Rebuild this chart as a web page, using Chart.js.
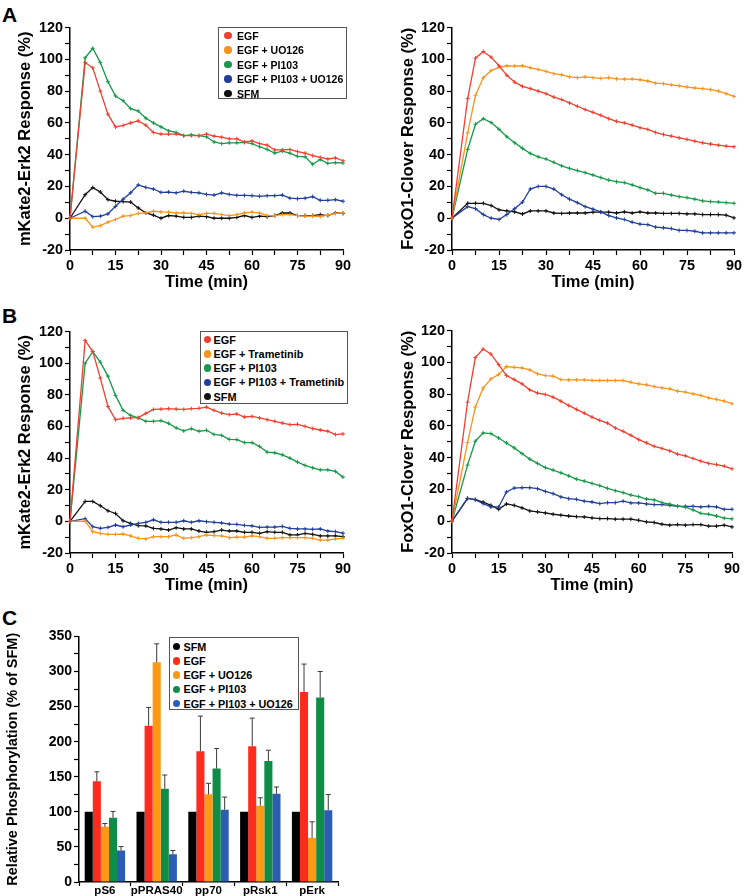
<!DOCTYPE html>
<html>
<head>
<meta charset="utf-8">
<script src="https://cdn.jsdelivr.net/npm/chart.js@4.4.0/dist/chart.umd.min.js"></script>
<style>
body { margin: 0; width: 746px; height: 896px; position: relative; background: #fff; overflow: hidden;
       font-family: "Liberation Sans", Arial, sans-serif; }
canvas { position: absolute; }
.panel { position: absolute; left: 2px; font-weight: bold; font-size: 21px; line-height: 21px; color: #000; }
.legend { position: absolute; border: 1px solid #555; background: #fff; font-weight: bold; color: #000; box-sizing: border-box; }
.legend span { position: absolute; white-space: nowrap; line-height: 12px; }
.legend i { position: absolute; width: 7.5px; height: 7.5px; border-radius: 50%; }
</style>
</head>
<body>
<div class="panel" style="top:4px">A</div>
<div class="panel" style="top:305px">B</div>
<div class="panel" style="top:607px">C</div>

<canvas id="aErk" width="341" height="275" style="left:16px;top:17px"></canvas>
<canvas id="aFox" width="347" height="275" style="left:399px;top:17px"></canvas>
<canvas id="bErk" width="341" height="274" style="left:16px;top:321px"></canvas>
<canvas id="bFox" width="347" height="275" style="left:399px;top:320px"></canvas>
<canvas id="cBar" width="340" height="270" style="left:4px;top:626px"></canvas>

<div id="legA" class="legend"></div>
<div id="legB" class="legend"></div>
<div id="legC" class="legend"></div>

<script>
// ===== time points (min) =====
const times = [0, 5, 7.5, 10, 12.5, 15, 17.5, 20, 22.5, 25, 27.5, 30, 32.5, 35, 37.5, 40, 42.5, 45, 47.5, 50,
    52.5, 55, 57.5, 60, 62.5, 65, 67.5, 70, 72.5, 75, 77.5, 80, 82.5, 85, 87.5, 90];
const timeLabels = [0, 15, 30, 45, 60, 75, 90];
const respLabels = [-20, 0, 20, 40, 60, 80, 100, 120];
const phosLabels = [0, 50, 100, 150, 200, 250, 300, 350];

// ===== A: UO126 =====
const aErkEGF = [0, 98, 94.7, 80, 65.5, 57.5, 58.4, 60, 61.3, 58.6, 54, 53, 53, 53, 52, 52, 52, 53, 51.7, 51,
    50, 50, 48, 48.7, 47, 46, 43, 43, 43.3, 42, 41, 39.4, 38.3, 37.3, 38, 36.2];
const aErkUO = [0, 0, -5.6, -4.7, -2.5, -0.8, 1.3, 1.7, 3, 3.3, 4.4, 4, 3.8, 3.3, 3.3, 3, 2.3, 3, 3.1, 2.3,
    1.7, 2.3, 3.3, 3.8, 3.3, 1.7, 1.7, 2.3, 2.3, 1.7, 1.3, 1.3, 1, 2, 3, 3.3];
const aErkPI = [0, 101, 107, 98, 86, 77, 74, 69, 67.5, 63, 60, 57.5, 55, 54, 52, 52.5, 52, 51.3, 48, 47,
    47.5, 47.5, 47.7, 47, 45, 43.3, 41, 42.3, 41, 39, 38.7, 34, 37, 34.5, 35, 34.8];
const aErkPIUO = [0, 4.4, 1, 1.3, 2.7, 7.5, 12, 16, 21, 19.4, 18.4, 16.3, 16.5, 16, 17, 16.3, 16, 15, 14.6, 16,
    15, 14.4, 14.4, 14.2, 13.8, 14.2, 14.2, 14.6, 12.6, 12.3, 12.6, 13.6, 11.3, 11.3, 11.7, 10.7];
const aErkSFM = [0, 14.8, 19.3, 16.5, 11.7, 10.7, 10.5, 10.2, 6.5, 3.3, 2, 0, 1.7, 1.3, 0.5, 0.5, 1.3, 1, 0, 0,
    0, 0.5, 1.7, 0.5, 1.3, 1, 1.7, 3.3, 3.3, 1.7, 1.7, 1.7, 2.3, 1.7, 3.3, 3];

const aFoxEGF = [0, 75.3, 100.8, 105, 101.4, 96, 90, 85.7, 83, 81.6, 80, 78.4, 76.3, 74.7, 72.6, 70.5, 68.4, 66.7, 64.8, 62.7,
    61, 60, 58.6, 57, 55.9, 54, 52.7, 51.7, 50.6, 49.6, 48.5, 47.5, 46.7, 46, 45.4, 45];
const aFoxUO = [0, 53.8, 77.4, 88.5, 93, 95, 96, 95.8, 96, 94.7, 93.7, 92.4, 91, 90.3, 89, 88.5, 89, 88.5, 88, 88.5,
    87.8, 87.6, 87.6, 87.2, 86.4, 85, 84.7, 84, 83.4, 82.6, 82, 81.6, 81, 80, 78.4, 76.7];
const aFoxPI = [0, 43.3, 59.2, 62.7, 60.2, 56, 51.3, 47.5, 44, 40.8, 38.7, 37.3, 35.2, 33, 31.4, 30, 28.7, 27.2, 25.6, 24,
    23, 22.4, 21, 19.3, 17.8, 15.7, 15.7, 14.6, 13.6, 13, 12, 10.9, 10.5, 10.2, 9.8, 9.4];
const aFoxPIUO = [0, 7.3, 6, 2.3, 0, -0.8, 2.3, 6, 10.2, 18.4, 20, 20, 18.4, 14.8, 12, 9.8, 7.3, 5.7, 4, 1.7,
    0.2, -0.8, -2.5, -3.7, -4, -5.6, -6, -6.5, -7.7, -7.7, -8.2, -9.2, -9.2, -9.2, -9.2, -9.2];
const aFoxSFM = [0, 9.4, 9.4, 9.4, 8, 5.3, 4.6, 4, 2.7, 4.6, 4.6, 4.6, 3.3, 3, 3.3, 3.3, 3.3, 3.8, 3.8, 3.8,
    3.3, 4, 3.3, 4, 3.3, 3.3, 3, 3, 3, 2.7, 2.7, 2.3, 2.3, 2.3, 1.9, 0.2];

// ===== B: Trametinib =====
const bErkEGF = [0, 114.4, 107.4, 90.6, 72.7, 64.3, 65.2, 65.4, 65.6, 68.3, 70.8, 71, 71.3, 71, 70.8, 71.3, 71.5, 72.3, 70.2, 68.5,
    67.5, 67.9, 66, 66.4, 65.4, 64.3, 63.3, 62.2, 61.2, 61.4, 60.1, 58.7, 57.8, 57, 54.9, 55.3];
const bErkTram = [0, 0.2, -6.5, -7.6, -8.2, -8.2, -8, -9.2, -10.7, -11.1, -9.7, -9.7, -9.7, -8.6, -10.7, -10.3, -9.7, -8.6, -9, -9.2,
    -10.3, -9.9, -9.9, -9.2, -9.7, -10.7, -10.7, -10.3, -10.3, -10.3, -10.3, -10.7, -11.8, -11.8, -11.1, -10.7];
const bErkPI = [0, 100, 107.4, 100.7, 91.9, 79.7, 70.2, 67, 65.4, 63.3, 63.3, 63.7, 62, 59.1, 57.2, 58.6, 57, 57.6, 55, 54.4,
    51.9, 51.7, 49.8, 49.8, 47.4, 43.8, 43.4, 42.1, 40, 37.5, 35.4, 33.9, 32.6, 32.6, 31.6, 28];
const bErkPITram = [0, 1.7, -3.4, -4.4, -3.8, -2.3, -3.4, -2.3, -1.3, -0.6, 1, -0.6, -0.6, -0.6, 0.4, -0.6, 0.4, -0.2, -0.6, -1,
    -1.7, -1.9, -2.5, -2.9, -3.8, -3.6, -3.6, -3.2, -4.4, -4.8, -4.8, -5, -4.8, -6.1, -6.5, -7.5];
const bErkSFM = [0, 12.6, 12.6, 9.9, 6.7, 5, 0.4, -1.3, -2.7, -2.9, -4.4, -4.8, -5.5, -4, -4.8, -4.8, -6.1, -6.9, -6.5, -5.5,
    -6.1, -6.1, -6.9, -6.9, -7.6, -6.5, -6.9, -6.9, -8.6, -8.6, -7.6, -8.2, -9.2, -9.2, -9.2, -9.7];

const bFoxEGF = [0, 75, 103, 108.4, 105.3, 98.6, 91.7, 89.2, 86.5, 82.7, 80.7, 79.8, 78.1, 75.6, 72.9, 70.4, 68.1, 65.6, 63.5, 61.8,
    58.7, 56.6, 54.1, 51.4, 49.3, 47.2, 45.8, 44.3, 42.2, 41.2, 39.5, 37.8, 36.4, 35.7, 34.7, 33];
const bFoxTram = [0, 49.5, 71.9, 83.8, 89.6, 92.4, 97.4, 96.9, 96.5, 95.3, 92.8, 91.7, 91.3, 89.2, 89, 89, 89, 88.6, 88.6, 88.6,
    88.6, 88.6, 87.5, 86.5, 85.9, 84.8, 84, 83.4, 81.9, 81.3, 80.2, 79.2, 77.7, 76.7, 75.6, 74];
const bFoxPI = [0, 35.3, 50.4, 55.6, 55.2, 52.4, 49.3, 46.2, 42.6, 39.1, 36.4, 33.8, 32.2, 30.5, 28.6, 26.5, 25.3, 23.8, 22.4, 20.7,
    19.2, 18, 16.5, 15.5, 14, 13.4, 11.7, 10.7, 9.6, 8.8, 7.1, 5, 4.4, 3.3, 1.9, 1.5];
const bFoxPITram = [0, 14.4, 13.6, 11.1, 9, 9, 18.4, 20.9, 21.1, 21.1, 20.5, 18.8, 17.4, 15.3, 14.2, 13.8, 12.6, 12.1, 11.1, 11.7,
    11.7, 12.6, 11.5, 11.5, 10.9, 10.5, 10.5, 10, 9.4, 9.4, 9.4, 9, 9.4, 9, 7.5, 7.5];
const bFoxSFM = [0, 14.4, 13.6, 12.1, 10, 7.5, 10.9, 10, 8.4, 6.5, 5.9, 5.2, 4.4, 3.8, 3.3, 2.9, 2.7, 2.1, 1.7, 1.7,
    1.3, 1.3, 1.3, 0.6, -0.4, -0.8, -1.9, -2.5, -2.1, -2.5, -2.1, -2.1, -3.1, -3.1, -2.5, -3.6];

// ===== C: phosphorylation (% of SFM) =====
const cCats = ['pS6', 'pPRAS40', 'pp70', 'pRsk1', 'pErk'];
const cSFM = [100, 100, 100, 100, 100];
const cEGF = [143.5, 222.6, 186.4, 193.5, 270.7];
const cUO = [78.6, 313, 124.9, 108.7, 63];
const cPI = [91.5, 133, 161.6, 172.5, 263];
const cPIUO = [44.8, 39.6, 103, 125.8, 102.4];
const cEGFerr = [13.5, 26.2, 50, 40.1, 39.9];
const cUOerr = [4.8, 26.4, 15.7, 11.3, 22.8];
const cPIerr = [9.1, 19.5, 28.6, 15.3, 37];
const cPIUOerr = [5.7, 5.2, 18, 9.6, 22.3];

const namesUO = ['EGF', 'EGF + UO126', 'EGF + PI103', 'EGF + PI103 + UO126', 'SFM'];
const namesTram = ['EGF', 'EGF + Trametinib', 'EGF + PI103', 'EGF + PI103 + Trametinib', 'SFM'];
const namesC = ['SFM', 'EGF', 'EGF + UO126', 'EGF + PI103', 'EGF + PI103 + UO126'];

const lineColors = ['#ee4030', '#f7941d', '#18994a', '#213f98', '#111111'];
const barColors = ['#000000', '#ff2b1c', '#ff9912', '#0f8d46', '#2c5db4'];

const bold = (size) => ({ family: '"Liberation Sans", Arial, sans-serif', size: size, weight: 'bold' });

// ===== Line charts =====
function lineChart(id, padRight, yTitle, series, names) {
    new Chart(document.getElementById(id), {
        type: 'line',
        data: {
            datasets: series.map((s, i) => ({
                label: names[i],
                data: times.map((t, k) => ({ x: t, y: s[k] })),
                borderColor: lineColors[i],
                backgroundColor: lineColors[i],
                borderWidth: 1.3,
                pointStyle: 'cross',
                pointRadius: 2,
                pointBorderWidth: 1,
                tension: 0,
                clip: 6
            }))
        },
        options: {
            responsive: false,
            animation: false,
            events: [],
            layout: { autoPadding: false, padding: { top: 10, right: padRight, left: 0, bottom: 0 } },
            plugins: { legend: { display: false }, tooltip: { enabled: false } },
            scales: {
                x: {
                    type: 'linear', min: 0, max: 90,
                    afterFit: s => { s.height = 42; },
                    ticks: {
                        stepSize: 7.5, autoSkip: false, maxRotation: 0, padding: 2,
                        color: '#000', font: bold(14.4),
                        callback: v => timeLabels.includes(v) ? v : ''
                    },
                    grid: { drawOnChartArea: false, drawTicks: true, tickLength: 5, tickColor: '#000', tickWidth: 1.2 },
                    border: { color: '#000', width: 1.5 },
                    title: { display: true, text: 'Time (min)', color: '#000', font: bold(16.5), padding: 0 }
                },
                y: {
                    min: -20, max: 120,
                    afterFit: s => { s.width = id.endsWith('Erk') ? 54 : 53; },
                    ticks: {
                        stepSize: 10, autoSkip: false, padding: 2,
                        color: '#000', font: bold(14.4),
                        callback: v => respLabels.includes(v) ? v : ''
                    },
                    grid: { drawOnChartArea: false, drawTicks: true, tickLength: 5, tickColor: '#000', tickWidth: 1.2 },
                    border: { color: '#000', width: 1.5 },
                    title: { display: true, text: yTitle, color: '#000', font: bold(16.5), padding: 0 }
                }
            }
        }
    });
}

lineChart('aErk', 14, 'mKate2-Erk2 Response (%)', [aErkEGF, aErkUO, aErkPI, aErkPIUO, aErkSFM], namesUO);
lineChart('aFox', 12, 'FoxO1-Clover Response (%)', [aFoxEGF, aFoxUO, aFoxPI, aFoxPIUO, aFoxSFM], namesUO);
lineChart('bErk', 14, 'mKate2-Erk2 Response (%)', [bErkEGF, bErkTram, bErkPI, bErkPITram, bErkSFM], namesTram);
lineChart('bFox', 14, 'FoxO1-Clover Response (%)', [bFoxEGF, bFoxTram, bFoxPI, bFoxPITram, bFoxSFM], namesTram);

// ===== Bar chart with upper error bars =====
const errorBars = {
    id: 'errorBars',
    afterDatasetsDraw(chart) {
        const ctx = chart.ctx;
        const y = chart.scales.y;
        chart.data.datasets.forEach((ds, i) => {
            chart.getDatasetMeta(i).data.forEach((bar, k) => {
                const e = ds.errors[k];
                if (!e) return;
                const top = y.getPixelForValue(ds.data[k] + e);
                ctx.save();
                ctx.strokeStyle = '#3a3a3a';
                ctx.lineWidth = 1;
                ctx.beginPath();
                ctx.moveTo(bar.x, bar.y);
                ctx.lineTo(bar.x, top);
                ctx.moveTo(bar.x - 2.5, top);
                ctx.lineTo(bar.x + 2.5, top);
                ctx.stroke();
                ctx.restore();
            });
        });
    }
};

const cSeries = [cSFM, cEGF, cUO, cPI, cPIUO];
const cErrors = [[0, 0, 0, 0, 0], cEGFerr, cUOerr, cPIerr, cPIUOerr];

new Chart(document.getElementById('cBar'), {
    type: 'bar',
    data: {
        labels: cCats,
        datasets: cSeries.map((s, i) => ({
            label: namesC[i],
            data: s,
            errors: cErrors[i],
            backgroundColor: barColors[i],
            borderWidth: 0,
            categoryPercentage: 0.78,
            barPercentage: 1
        }))
    },
    options: {
        responsive: false,
        animation: false,
        events: [],
        layout: { autoPadding: false, padding: { top: 10, right: 6, left: 0, bottom: 0 } },
        plugins: { legend: { display: false }, tooltip: { enabled: false } },
        scales: {
            x: {
                afterFit: s => { s.height = 14; },
                ticks: { color: '#000', font: bold(11.5), padding: -2, maxRotation: 0, autoSkip: false },
                grid: { offset: true, drawOnChartArea: false, drawTicks: true, tickLength: 4, tickColor: '#000', tickWidth: 1.2 },
                border: { color: '#000', width: 1.5 }
            },
            y: {
                min: 0, max: 350,
                afterFit: s => { s.width = 75; },
                ticks: {
                    stepSize: 25, autoSkip: false, padding: 2,
                    color: '#000', font: bold(14),
                    callback: v => phosLabels.includes(v) ? v : ''
                },
                grid: { drawOnChartArea: false, drawTicks: true, tickLength: 5, tickColor: '#000', tickWidth: 1.2 },
                border: { color: '#000', width: 1.5 },
                title: { display: true, text: 'Relative Phosphorylation (% of SFM)', color: '#000', font: bold(14.5), padding: 0 }
            }
        }
    },
    plugins: [errorBars]
});

// ===== HTML legends =====
function makeLegend(id, box, names, colors, fontSize, dotX, textX, rowTop, rowStep) {
    const el = document.getElementById(id);
    el.style.left = box[0] + 'px';
    el.style.top = box[1] + 'px';
    el.style.width = box[2] + 'px';
    el.style.height = box[3] + 'px';
    el.style.fontSize = fontSize + 'px';
    names.forEach((n, i) => {
        const cy = rowTop + i * rowStep;
        const dot = document.createElement('i');
        dot.style.background = colors[i];
        dot.style.left = (dotX - 3.75) + 'px';
        dot.style.top = (cy - 3.75) + 'px';
        el.appendChild(dot);
        const t = document.createElement('span');
        t.textContent = n;
        t.style.left = textX + 'px';
        t.style.top = (cy - 6) + 'px';
        el.appendChild(t);
    });
}

makeLegend('legA', [218, 27, 129, 72], namesUO, lineColors, 10.5, 9, 18, 7.5, 14.5);
makeLegend('legB', [200, 331, 148, 73], namesTram, lineColors, 10.9, 6.5, 12.5, 7.5, 14.3);
makeLegend('legC', [169, 637, 130, 73], namesC, barColors, 10.8, 6.5, 13.5, 8.5, 14.3);
</script>
</body>
</html>
